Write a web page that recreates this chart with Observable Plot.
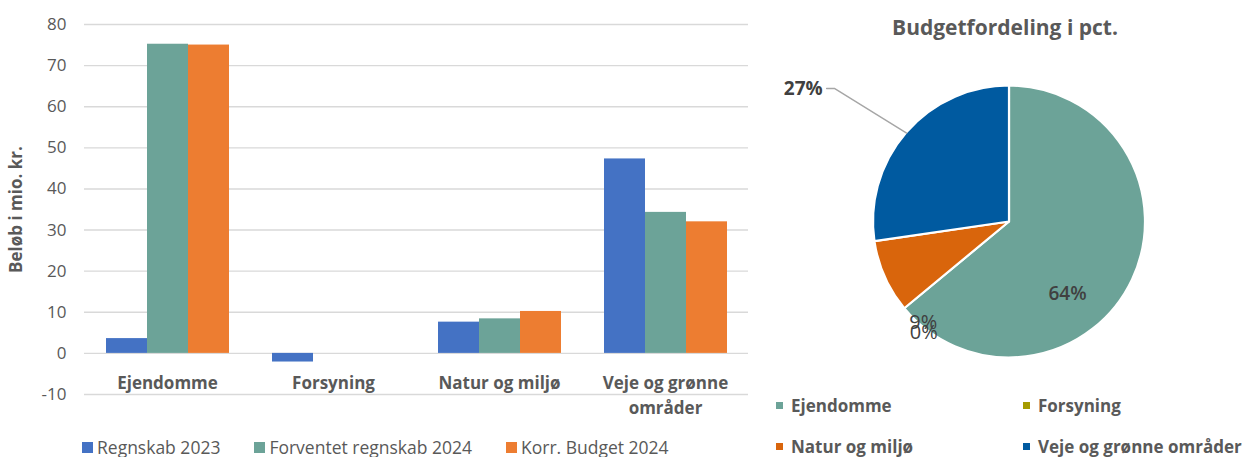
<!DOCTYPE html>
<html><head><meta charset="utf-8">
<script src="https://cdn.jsdelivr.net/npm/d3@7"></script>
<script src="https://cdn.jsdelivr.net/npm/@observablehq/plot@0.6"></script>
<style>
body{margin:0;background:#fff;}
#wrap{position:relative;width:1246px;height:457px;overflow:hidden;font-family:"Open Sans",sans-serif;color:#595959;}
.abs{position:absolute;}
#barLegend{left:82px;top:435px;display:flex;align-items:center;font-size:17.5px;white-space:nowrap;}
#barLegend .it{display:flex;align-items:center;margin-right:34px;}
#barLegend .sw{width:11px;height:11px;margin-right:4px;}
#pieTitle{left:760px;width:490px;top:13px;text-align:center;font-size:21px;font-weight:bold;}
#pieLegend{left:776px;top:393px;display:grid;grid-template-columns:247px 220px;row-gap:17px;font-size:17px;font-weight:bold;white-space:nowrap;}
#pieLegend .it{display:flex;align-items:center;height:24px;}
#pieLegend .sw{width:7px;height:7px;margin-right:8px;}
</style></head><body>
<div id="wrap">
 <div id="bar" class="abs" style="left:0;top:0"></div>
 <div id="barLegend" class="abs"></div>
 <div id="pie" class="abs" style="left:760px;top:0"></div>
 <div id="pieTitle" class="abs"></div>
 <div id="pieLegend" class="abs"></div>
</div>
<script>
// ---- data ----
const categories = ["Ejendomme", "Forsyning", "Natur og miljø", "Veje og grønne områder"];
const categoryLabels = ["Ejendomme", "Forsyning", "Natur og miljø", "Veje og grønne\nområder"];
const series = ["Regnskab 2023", "Forventet regnskab 2024", "Korr. Budget 2024"];
const regnskab2023 = [3.6, -2.1, 7.6, 47.3];
const forventet2024 = [75.2, 0, 8.4, 34.3];
const korrBudget2024 = [75.0, 0, 10.2, 32.0];
const yTicks = [-10, 0, 10, 20, 30, 40, 50, 60, 70, 80];
const seriesColors = ["#4472C4", "#6CA398", "#ED7D31"];
const pieColors = ["#6CA398", "#A59B00", "#D9650C", "#005AA0"];
const pieTitle = "Budgetfordeling i pct.";

// ---- bar chart ----
const seriesValues = [regnskab2023, forventet2024, korrBudget2024];
const rows = [];
categories.forEach((c, i) => series.forEach((s, j) => rows.push({category: c, series: s, value: seriesValues[j][i]})));
const labelOf = new Map(categories.map((c, i) => [c, categoryLabels[i]]));

const bar = Plot.plot({
  width: 760, height: 457,
  marginLeft: 84, marginRight: 12, marginTop: 24, marginBottom: 63,
  style: {fontFamily: "Open Sans", fontSize: "17px", color: "#595959", background: "transparent", overflow: "visible"},
  fx: {domain: categories, padding: 0, axis: null},
  x: {domain: series, paddingInner: 0, paddingOuter: 0.5, axis: null},
  y: {domain: [-10, 80], axis: null},
  color: {domain: series, range: seriesColors},
  marks: [
    Plot.ruleY(yTicks, {stroke: "#D9D9D9", strokeWidth: 1.4}),
    Plot.axisY({ticks: yTicks, tickFormat: d => String(d), tickSize: 0, tickPadding: 18, label: null, fontSize: 17}),
    Plot.axisY({ticks: [], label: "Beløb i mio. kr.", labelAnchor: "center", labelOffset: 75, labelArrow: "none", fontWeight: "bold", fontSize: 17}),
    Plot.barY(rows, {fx: "category", x: "series", y: "value", fill: "series"}),
    Plot.text(categories, {fx: d => d, text: d => labelOf.get(d), frameAnchor: "bottom", lineAnchor: "top", dy: -23, lineHeight: 1.45, fontWeight: "bold", fontSize: 17, fill: "#595959"})
  ]
});
document.getElementById("bar").append(bar);

const bl = document.getElementById("barLegend");
series.forEach((s, i) => {
  const it = document.createElement("div"); it.className = "it";
  it.innerHTML = `<span class="sw" style="background:${seriesColors[i]}"></span><span>${s}</span>`;
  bl.append(it);
});

// ---- pie chart ----
const total = d3.sum(korrBudget2024);
const pieData = categories.map((c, i) => ({name: c, value: korrBudget2024[i]}));
const arcs = d3.pie().sort(null).value(d => Math.max(0, d.value))(pieData);
const slices = arcs.map(a => ({
  name: a.data.name, value: a.data.value, start: a.startAngle, end: a.endAngle,
  mid: (a.startAngle + a.endAngle) / 2,
  pct: Math.round(a.data.value / total * 100) + "%"
}));
const polar = (ang, r) => ({x: r * Math.sin(ang), y: r * Math.cos(ang)});

function pieMark(index, scales) {
  const cx = scales.x(0), cy = scales.y(0), r = scales.x(1) - scales.x(0);
  const arc = d3.arc().innerRadius(0).outerRadius(r);
  const g = d3.create("svg:g").attr("transform", `translate(${cx},${cy})`);
  g.selectAll("path").data(slices.filter(s => s.value > 0)).join("path")
    .attr("d", s => arc({startAngle: s.start, endAngle: s.end}))
    .attr("fill", s => scales.color(s.name))
    .attr("stroke", "#fff").attr("stroke-width", 2.2).attr("stroke-linejoin", "round");
  return g.node();
}

const sl = Object.fromEntries(slices.map(s => [s.name, s]));
const lab = (name, r) => ({...polar(sl[name].mid, r), text: sl[name].pct});
const veje = sl["Veje og grønne områder"];
const edge = polar(veje.mid, 1), elbow = polar(veje.mid, 1.5);
const leader = [edge, {x: elbow.x - 0.15, y: elbow.y}, {x: elbow.x - 0.21, y: elbow.y}];

const pie = Plot.plot({
  width: 486, height: 457,
  marginLeft: 113, marginRight: 101, marginTop: 85.5, marginBottom: 99.5,
  style: {fontFamily: "Open Sans", color: "#404040", background: "transparent", overflow: "visible"},
  x: {domain: [-1, 1], axis: null},
  y: {domain: [-1, 1], axis: null},
  color: {domain: categories, range: pieColors},
  marks: [
    Plot.dot(slices, {x: () => 0, y: () => 0, fill: "name", fillOpacity: 0, r: 1}),
    pieMark,
    Plot.line(leader, {x: "x", y: "y", stroke: "#A6A6A6", strokeWidth: 1.4}),
    Plot.text([lab("Ejendomme", 0.65)], {x: "x", y: "y", text: "text", dx: -22, dy: 34, fontSize: 19, fontWeight: 600, fill: "#404040"}),
    Plot.text([lab("Natur og miljø", 1)], {x: "x", y: "y", text: "text", dx: 38, dy: 45, fontSize: 20, fill: "#404040"}),
    Plot.text([lab("Forsyning", 1)], {x: "x", y: "y", text: "text", dx: 19, dy: 24, fontSize: 20, fill: "#404040"}),
    Plot.text([{x: elbow.x - 0.21, y: elbow.y, text: veje.pct}], {x: "x", y: "y", text: "text", textAnchor: "end", dx: -4, fontSize: 19, fontWeight: "bold", fill: "#404040"})
  ]
});
document.getElementById("pie").append(pie);
document.getElementById("pieTitle").textContent = pieTitle;

const pl = document.getElementById("pieLegend");
categories.forEach((c, i) => {
  const it = document.createElement("div"); it.className = "it";
  it.innerHTML = `<span class="sw" style="background:${pieColors[i]}"></span><span>${c}</span>`;
  pl.append(it);
});
</script>
</body></html>
